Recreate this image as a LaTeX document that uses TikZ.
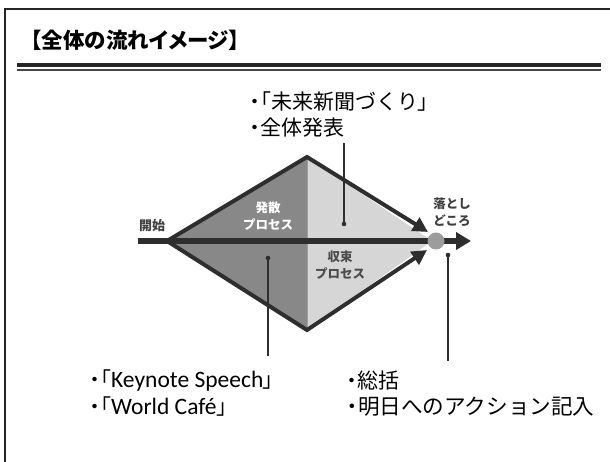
\documentclass[tikz,border=0pt]{standalone}
\usepackage{fontspec}
\newfontfamily\jp{Noto Sans CJK JP}
\newfontfamily\jpp{Noto Sans CJK JP}[RawFeature=+palt]
\newfontfamily\lat{Carlito}
\usetikzlibrary{arrows.meta}
\definecolor{darkfill}{HTML}{888888}
\definecolor{lightfill}{HTML}{D6D6D6}
\definecolor{edgec}{HTML}{2E2E2E}
\definecolor{dotc}{HTML}{9C9C9C}
\definecolor{framec}{HTML}{262626}
\newcommand{\pp}[1]{{\jpp #1}}
\tikzset{
  txt/.style={anchor=west, inner sep=0pt, font=\jp\fontsize{21}{24}\selectfont, text=black},
  lbl/.style={inner sep=0pt, align=center, font=\jp\bfseries\fontsize{12.5}{17}\selectfont},
  ptr/.style={line width=1.4pt, draw=edgec},
  edgeline/.style={line width=4pt, draw=edgec, line join=miter, -{Triangle[length=15pt,width=15pt]}},
}
\begin{document}
\begin{tikzpicture}[x=1pt,y=-1pt]
\useasboundingbox (0,0) rectangle (610,462);
\fill[white] (0,0) rectangle (610,462);
% frame
\draw[framec, line width=2pt] (5,462) -- (5,9) -- (610,9);
\fill[framec] (17,63) rectangle (601,67.5);
\fill[framec!85] (17,69) rectangle (601,71);
% title
\node[anchor=west, inner sep=0pt, font=\jpp\bfseries\fontsize{21.5}{23}\selectfont] (title) at (31,40) {【全体の流れイメージ】};
% diamond
\coordinate (L) at (167,241);
\coordinate (T) at (307,157);
\coordinate (B) at (307,330);
\coordinate (R) at (432,241);
\coordinate (TA) at (428,232);
\coordinate (BA) at (427,250);
\fill[darkfill] (L) -- (T) -- (B) -- cycle;
\fill[lightfill] (T) -- (R) -- (B) -- cycle;
\draw[gray!75, line width=1pt] (T) -- (B);
% main arrow
\coordinate (S) at (138,241);
\coordinate (E) at (471,241);
\draw[line width=6pt, draw=edgec, -{Triangle[length=15pt,width=17pt]}] (S) -- (E);
\draw[edgeline] (L) -- (T) -- (TA);
\draw[edgeline] (L) -- (B) -- (BA);
\node[circle, fill=dotc, minimum size=17pt, inner sep=0pt] (goal) at (436,241) {};
% small labels
\node[lbl, text=white] (div) at (268,216) {発散\\プロセス};
\node[lbl, text=black!70] (conv) at (340,265) {収束\\プロセス};
\node[lbl, text=black!75, font=\jp\bfseries\fontsize{13}{16}\selectfont] (start) at (152,226) {開始};
\node[lbl, text=black!75] (land) at (452,212) {落とし\\どころ};
% texts
\node[txt] (t1) at (250,102) {\pp{・「}未来新聞づくり\pp{」}};
\node[txt] (t2) at (250,128) {\pp{・}全体発表};
\node[txt] (b1) at (90,381) {\pp{・「}{\lat\fontsize{23.5}{24}\selectfont Keynote Speech}\pp{」}};
\node[txt] (b2) at (90,407) {\pp{・「}{\lat\fontsize{23.5}{24}\selectfont World Café}\pp{」}};
\node[txt] (c1) at (347,381) {\pp{・}総括};
\node[txt, font=\jp\fontsize{21.6}{24}\selectfont] (c2) at (347,407) {\pp{・}明日へのアクション記入};
% pointers
\coordinate (p1) at (344,224);
\coordinate (p1e) at (344,143);
\coordinate (p2) at (268,258);
\coordinate (p2e) at (268,356);
\coordinate (p3) at (448,255);
\coordinate (p3e) at (448,361);
\draw[ptr] (p1) -- (p1e);
\draw[ptr] (p2) -- (p2e);
\draw[ptr] (p3) -- (p3e);
\fill[edgec] (p1) circle (2.3pt) (p2) circle (2.3pt) (p3) circle (2.3pt);
\end{tikzpicture}
\end{document}
